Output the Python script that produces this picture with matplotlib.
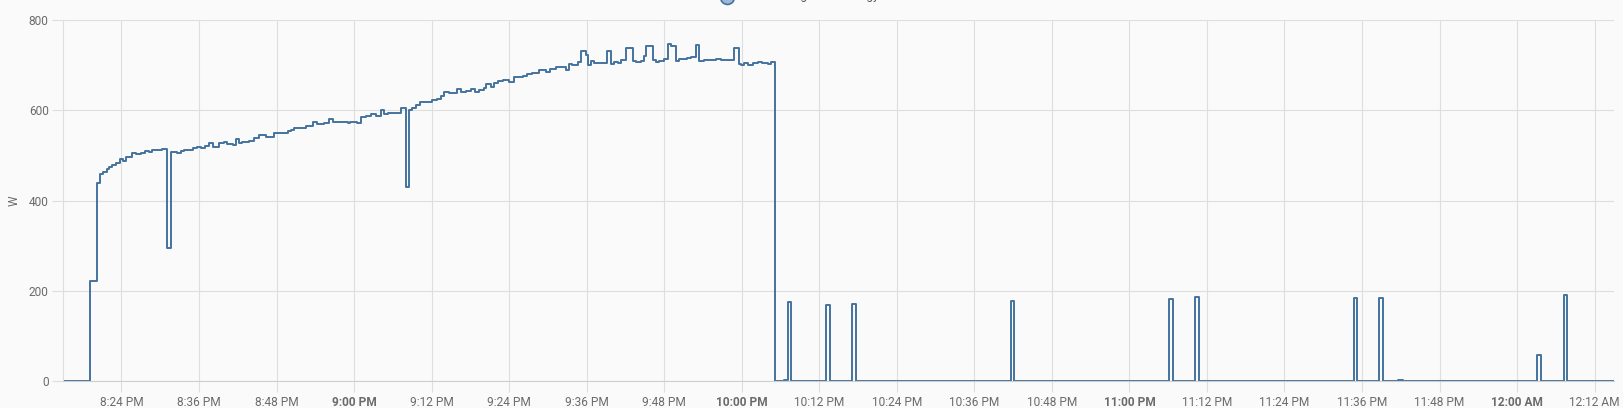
import pandas as pd
import numpy as np
import matplotlib
matplotlib.use('Agg')
from matplotlib import pyplot as plt
from matplotlib.lines import Line2D

plt.rcParams['font.family'] = ['Roboto', 'DejaVu Sans']

# Minutos despues de las 8:00 PM en que cambia la lectura, y el nuevo valor (W)
minutos = [15.0, 19.2, 20.2, 20.7, 21.2, 21.7, 22.1, 22.6, 23.1, 23.7,
           24.2, 24.7, 25.7, 26.3, 27.0, 27.7, 28.3, 28.8, 29.6, 30.3,
           31.1, 31.7, 32.6, 33.2, 33.7, 35.0, 35.75, 36.3, 37.0, 37.55,
           38.1, 39.1, 39.9, 40.4, 41.2, 41.7, 42.2, 42.7, 43.7, 44.5,
           45.3, 46.3, 47.6, 49.2, 49.7, 50.2, 50.7, 51.75, 52.5, 53.7,
           54.2, 55.4, 56.1, 56.75, 58.5, 59.0, 59.4, 59.9, 60.5, 61.0,
           61.8, 62.6, 63.4, 64.1, 64.65, 65.3, 67.2, 68.0, 68.5, 69.0,
           69.55, 70.2, 72.1, 72.9, 73.4, 73.9, 74.7, 76.0, 76.6, 77.3,
           78.1, 78.7, 79.4, 80.1, 80.4, 81.2, 81.7, 82.3, 83.0, 84.0,
           84.8, 86.1, 86.7, 87.6, 88.65, 89.7, 90.3, 91.2, 92.8, 93.3,
           93.8, 94.6, 95.1, 95.85, 96.15, 96.65, 97.2, 99.1, 99.75, 100.3,
           100.8, 101.3, 102.1, 103.1, 103.6, 104.4, 104.9, 105.2, 106.2, 106.7,
           107.2, 108.0, 108.6, 109.0, 109.8, 110.3, 111.6, 112.1, 112.9, 113.4,
           114.2, 116.0, 116.8, 118.1, 118.8, 119.5, 119.9, 120.4, 120.9, 121.7,
           122.5, 123.2, 124.0, 124.6, 125.15, 126.6, 127.1, 127.7, 133.1, 133.7,
           137.1, 137.7, 161.6, 162.2, 186.2, 186.7, 190.1, 190.7, 214.7, 215.3,
           218.6, 219.2, 221.6, 222.3, 243.1, 243.65, 247.2, 247.75, 255.0]
potencia = [0, 221, 438, 459, 464, 470, 475, 479, 482, 492,
            488, 496, 505, 502, 505, 510, 507, 512, 513, 515,
            295, 508, 505, 510, 513, 516, 519, 517, 521, 527,
            519, 528, 530, 525, 524, 536, 527, 530, 532, 538,
            545, 541, 549, 550, 554, 556, 560, 561, 564, 575,
            570, 572, 581, 573, 575, 571, 575, 573, 571, 584,
            587, 592, 587, 600, 592, 595, 604, 430, 600, 604,
            612, 618, 623, 626, 631, 641, 638, 646, 640, 643,
            647, 641, 645, 649, 658, 652, 660, 665, 667, 662,
            673, 676, 680, 682, 689, 684, 691, 695, 689, 702,
            700, 708, 732, 722, 700, 710, 704, 732, 702, 706,
            704, 711, 739, 710, 706, 710, 720, 742, 711, 708,
            710, 714, 747, 742, 710, 713, 715, 717, 745, 710,
            711, 713, 712, 711, 737, 702, 700, 704, 700, 705,
            706, 704, 703, 708, 0, 2, 176, 0, 168, 0,
            171, 0, 177, 0, 182, 0, 186, 0, 185, 0,
            183, 0, 3, 0, 58, 0, 190, 0, 0]

tick_labels = ['8:24 PM', '8:36 PM', '8:48 PM', '9:00 PM', '9:12 PM', '9:24 PM',
               '9:36 PM', '9:48 PM', '10:00 PM', '10:12 PM', '10:24 PM', '10:36 PM',
               '10:48 PM', '11:00 PM', '11:12 PM', '11:24 PM', '11:36 PM', '11:48 PM',
               '12:00 AM', '12:12 AM']
tick_bold = ['9:00 PM', '10:00 PM', '11:00 PM', '12:00 AM']
y_ticks = [0, 200, 400, 600, 800]
leyenda = 'Kitchen fridge total energy'

base = pd.Timestamp('2023-09-27 20:00')
tiempos = base + pd.to_timedelta(minutos, unit='min')
pos_ticks = [base + pd.Timedelta(minutes=24 + 12*i) for i in range(len(tick_labels))]

W, H = 1623, 408
fig = plt.figure(figsize=(W/100, H/100), dpi=100, facecolor='#fafafa')
ax = fig.add_axes([63.3/W, 27/H, (1614-63.3)/W, 361/H])
ax.set_facecolor('#fafafa')

ax.plot(tiempos, potencia, drawstyle='steps-post', color='#44739e', lw=1.4)

ax.set_xlim(base + pd.Timedelta(minutes=15), base + pd.Timedelta(minutes=255))
ax.set_ylim(0, 800)
ax.set_yticks(y_ticks)
ax.set_xticks(pos_ticks)
ax.set_xticklabels(tick_labels)
for lab in ax.get_xticklabels():
    if lab.get_text() in tick_bold:
        lab.set_fontweight('bold')
        lab.set_color('#444444')

ax.grid(True, color='#dedede', lw=0.8)
ax.set_axisbelow(True)
ax.tick_params(length=8, width=0.8, color='#dedede', labelcolor='#6b6b6b',
               labelsize=8.6, pad=2.5)
for s in ['top', 'right']:
    ax.spines[s].set_visible(False)
ax.spines['left'].set_color('#dedede')
ax.spines['bottom'].set_color('#cfcfcf')
ax.spines['left'].set_linewidth(0.8)
ax.spines['bottom'].set_linewidth(0.8)

ax.set_ylabel('W', color='#6b6b6b', fontsize=8.6)
ax.yaxis.set_label_coords(-(63.3-21)/(1614-63.3), 0.5)

# leyenda cortada en el borde superior
fig.add_artist(Line2D([726.7/W], [1 + 3/H], transform=fig.transFigure, marker='o',
                      ms=10, mfc='#9db8d6', mec='#44739e', mew=1.2, ls='none'))
fig.text(740/W, 1 + 0.5/H, leyenda, va='baseline', ha='left',
         fontsize=8.6, color='#555555')

fig.savefig('out.png', dpi=100, facecolor=fig.get_facecolor())
